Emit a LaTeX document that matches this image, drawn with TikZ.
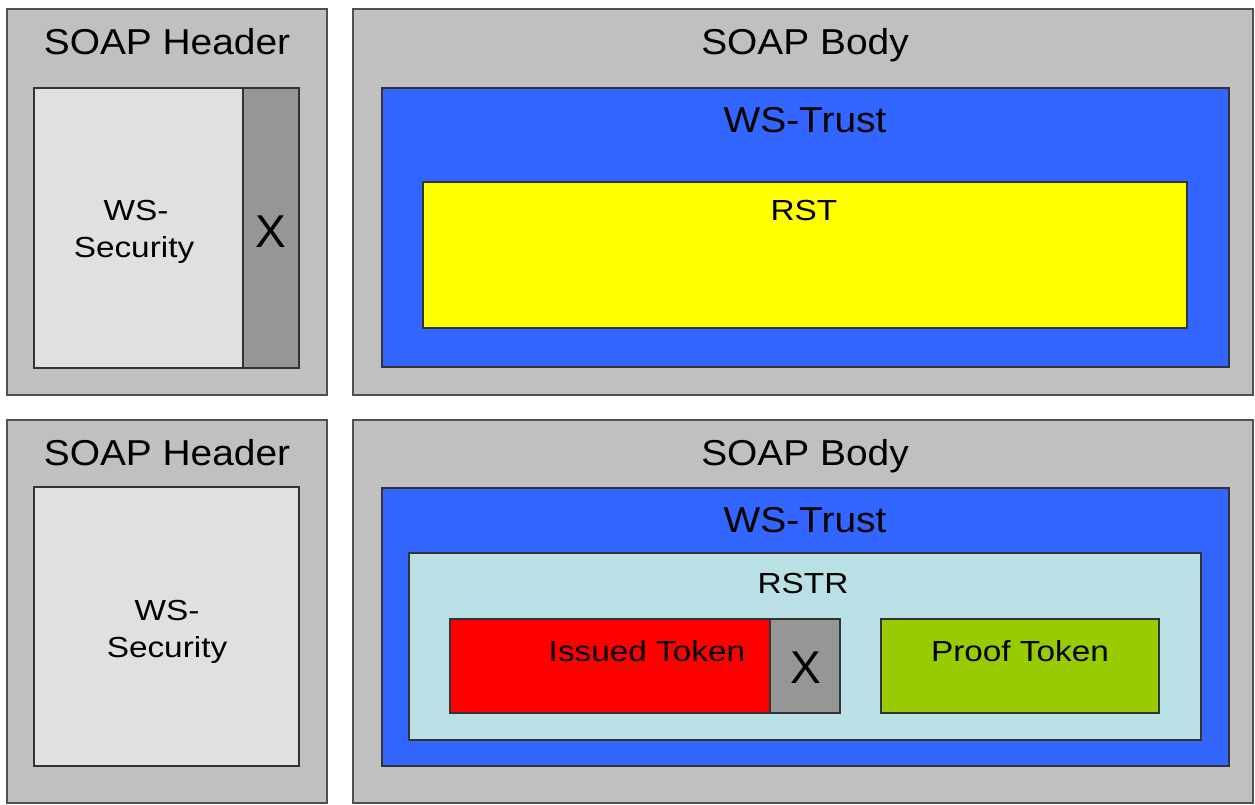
\documentclass[tikz,border=0pt]{standalone}
\usepackage{fontspec}
\setmainfont{Liberation Sans}
\usepackage{graphicx}
\definecolor{outergray}{RGB}{192,192,192}
\definecolor{secgray}{RGB}{224,224,224}
\definecolor{xgray}{RGB}{150,150,150}
\definecolor{trustblue}{RGB}{51,102,255}
\definecolor{rstyellow}{RGB}{255,255,0}
\definecolor{rstrblue}{RGB}{185,224,228}
\definecolor{issred}{RGB}{255,0,0}
\definecolor{proofgreen}{RGB}{153,204,0}
\definecolor{edge}{RGB}{51,51,51}
\definecolor{outeredge}{RGB}{80,80,80}
\newcommand\widebig[1]{\scalebox{1.08}[1]{#1}}
\newcommand\widemid[1]{\scalebox{1.15}[1]{#1}}
\begin{document}
\begin{tikzpicture}[x=1pt,y=-1pt,
  box/.style={draw=edge, line width=1.5pt, anchor=north west, inner sep=0pt, outer sep=0pt},
  outerbox/.style={box, draw=outeredge, fill=outergray},
  big/.style={anchor=base, inner sep=0pt, font=\fontsize{36}{40}\selectfont},
  mid/.style={anchor=base, inner sep=0pt, font=\fontsize{29}{32}\selectfont},
  xl/.style={anchor=base, inner sep=0pt, font=\fontsize{46}{50}\selectfont}]
\useasboundingbox (0,0) rectangle (1255,805);
% ---- top row ----
\node[outerbox, minimum width=320pt, minimum height=386pt] (h1) at (7,9) {};
\node[box, fill=secgray, minimum width=209pt, minimum height=280pt] (sec1) at (34,88) {};
\node[box, fill=xgray, minimum width=56pt, minimum height=280pt] (x1) at (243,88) {};
\node[outerbox, minimum width=900pt, minimum height=386pt] (b1) at (353,9) {};
\node[box, fill=trustblue, minimum width=847pt, minimum height=279pt] (tr1) at (382,88) {};
\node[box, fill=rstyellow, minimum width=764pt, minimum height=146pt] (rst) at (423,182) {};
\node[big] (th1) at (167,55) {\widebig{SOAP Header}};
\node[mid] (ts1a) at (136,220) {\widemid{WS-}};
\node[mid] (ts1b) at (134,257) {\widemid{Security}};
\node[xl] (tx1) at (271,247) {X};
\node[big] (tb1) at (805,55) {\widebig{SOAP Body}};
\node[big] (tt1) at (805,133) {\widebig{WS-Trust}};
\node[mid] (trst) at (804,220) {\widemid{RST}};
% ---- bottom row ----
\node[outerbox, minimum width=320pt, minimum height=383pt] (h2) at (7,420) {};
\node[box, fill=secgray, minimum width=265pt, minimum height=279pt] (sec2) at (34,487) {};
\node[outerbox, minimum width=900pt, minimum height=383pt] (b2) at (353,420) {};
\node[box, fill=trustblue, minimum width=847pt, minimum height=278pt] (tr2) at (382,488) {};
\node[box, fill=rstrblue, minimum width=792pt, minimum height=187pt] (rstr) at (409,553) {};
\node[box, fill=issred, minimum width=320pt, minimum height=94pt] (iss) at (450,619) {};
\node[box, fill=xgray, minimum width=70pt, minimum height=94pt] (x2) at (770,619) {};
\node[box, fill=proofgreen, minimum width=278pt, minimum height=94pt] (proof) at (881,619) {};
\node[big] (th2) at (167,465) {\widebig{SOAP Header}};
\node[mid] (ts2a) at (167,620) {\widemid{WS-}};
\node[mid] (ts2b) at (167,657) {\widemid{Security}};
\node[big] (tb2) at (805,465) {\widebig{SOAP Body}};
\node[big] (tt2) at (805,532) {\widebig{WS-Trust}};
\node[mid] (trstr) at (803,593) {\widemid{RSTR}};
\node[mid] (tiss) at (647,661) {\widemid{Issued Token}};
\node[xl] (tx2) at (806,683) {X};
\node[mid] (tproof) at (1020,661) {\widemid{Proof Token}};
\end{tikzpicture}
\end{document}
